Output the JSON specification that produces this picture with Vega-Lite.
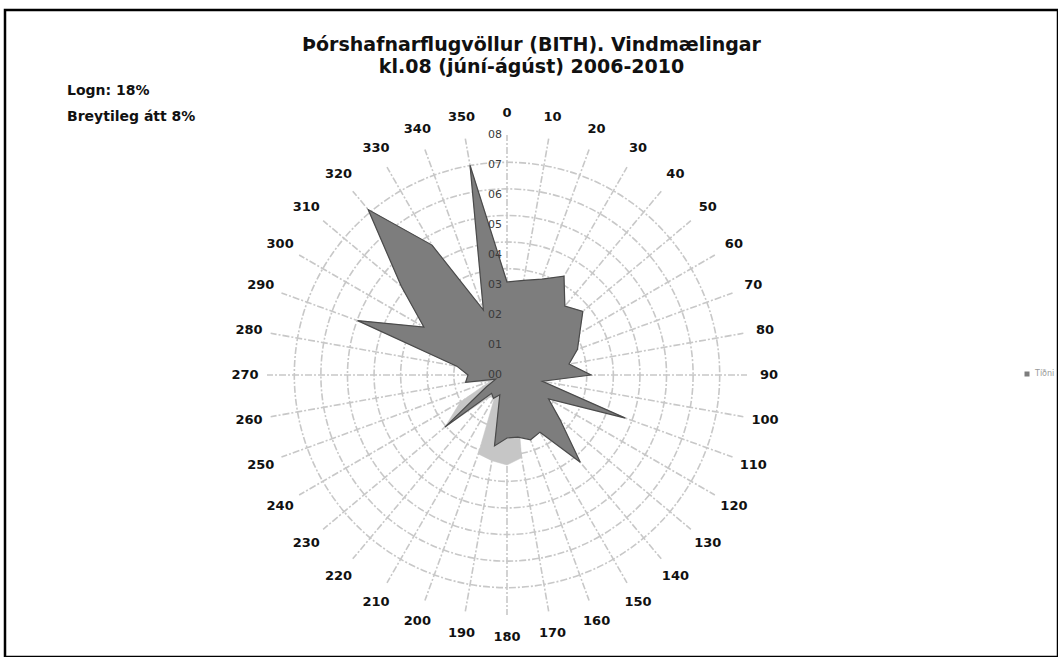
{
  "$schema": "https://vega.github.io/schema/vega-lite/v6.json",
  "width": 1053,
  "height": 647,
  "autosize": {"type": "none"},
  "padding": {"left": 5, "top": 10, "right": 0, "bottom": 0},
  "background": "white",
  "config": {"view": {"stroke": "black", "strokeWidth": 2.5}, "font": "DejaVu Sans"},
  "title": {
    "text": ["Þórshafnarflugvöllur (BITH). Vindmælingar", "kl.08 (júní-ágúst) 2006-2010"],
    "anchor": "middle",
    "frame": "group",
    "orient": "top",
    "baseline": "top",
    "offset": 0,
    "dy": 67,
    "font": "DejaVu Sans",
    "fontSize": 19,
    "fontWeight": "bold",
    "lineHeight": 22,
    "color": "#111"
  },
  "datasets": {
    "wind": [
      {"dir": 0, "tidni": 0.031, "ljos": 0.031},
      {"dir": 10, "tidni": 0.032, "ljos": 0.032},
      {"dir": 20, "tidni": 0.034, "ljos": 0.034},
      {"dir": 30, "tidni": 0.038, "ljos": 0.038},
      {"dir": 40, "tidni": 0.030, "ljos": 0.030},
      {"dir": 50, "tidni": 0.033, "ljos": 0.033},
      {"dir": 60, "tidni": 0.028, "ljos": 0.028},
      {"dir": 70, "tidni": 0.025, "ljos": 0.025},
      {"dir": 80, "tidni": 0.021, "ljos": 0.021},
      {"dir": 90, "tidni": 0.028, "ljos": 0.028},
      {"dir": 100, "tidni": 0.012, "ljos": 0.012},
      {"dir": 110, "tidni": 0.042, "ljos": 0.042},
      {"dir": 120, "tidni": 0.016, "ljos": 0.016},
      {"dir": 130, "tidni": 0.023, "ljos": 0.023},
      {"dir": 140, "tidni": 0.038, "ljos": 0.038},
      {"dir": 150, "tidni": 0.022, "ljos": 0.020},
      {"dir": 160, "tidni": 0.023, "ljos": 0.010},
      {"dir": 170, "tidni": 0.021, "ljos": 0.028},
      {"dir": 180, "tidni": 0.021, "ljos": 0.030},
      {"dir": 190, "tidni": 0.024, "ljos": 0.029},
      {"dir": 200, "tidni": 0.007, "ljos": 0.028},
      {"dir": 210, "tidni": 0.009, "ljos": 0.008},
      {"dir": 220, "tidni": 0.008, "ljos": 0.010},
      {"dir": 230, "tidni": 0.027, "ljos": 0.027},
      {"dir": 240, "tidni": 0.008, "ljos": 0.018},
      {"dir": 250, "tidni": 0.004, "ljos": 0.006},
      {"dir": 260, "tidni": 0.014, "ljos": 0.014},
      {"dir": 270, "tidni": 0.013, "ljos": 0.013},
      {"dir": 280, "tidni": 0.017, "ljos": 0.017},
      {"dir": 290, "tidni": 0.053, "ljos": 0.053},
      {"dir": 300, "tidni": 0.032, "ljos": 0.032},
      {"dir": 310, "tidni": 0.046, "ljos": 0.046},
      {"dir": 320, "tidni": 0.072, "ljos": 0.072},
      {"dir": 330, "tidni": 0.050, "ljos": 0.050},
      {"dir": 340, "tidni": 0.023, "ljos": 0.023},
      {"dir": 350, "tidni": 0.071, "ljos": 0.071}
    ],
    "rings": [
      {"ring": 0.00, "label": "00"},
      {"ring": 0.01, "label": "01"},
      {"ring": 0.02, "label": "02"},
      {"ring": 0.03, "label": "03"},
      {"ring": 0.04, "label": "04"},
      {"ring": 0.05, "label": "05"},
      {"ring": 0.06, "label": "06"},
      {"ring": 0.07, "label": "07"},
      {"ring": 0.08, "label": "08"}
    ],
    "notes": [
      {"text": "Logn: 18%\nBreytileg átt 8%"}
    ],
    "legend": [
      {"series": "Tíðni"}
    ]
  },
  "layer": [
    {
      "data": {"name": "rings"},
      "transform": [
        {"filter": "datum.ring > 0"},
        {"calculate": "PI * pow(datum.ring * 3000, 2)", "as": "area"},
        {"calculate": "0", "as": "cx"},
        {"calculate": "0", "as": "cy"}
      ],
      "mark": {"type": "point", "shape": "circle", "filled": false, "stroke": "#c8c8c8", "strokeWidth": 1.6, "strokeDash": [7, 2, 2, 2], "opacity": 1},
      "encoding": {
        "x": {"field": "cx", "type": "quantitative", "scale": {"domain": [-502, 551], "nice": false, "zero": false}, "axis": null},
        "y": {"field": "cy", "type": "quantitative", "scale": {"domain": [-282, 365], "nice": false, "zero": false}, "axis": null},
        "size": {"field": "area", "type": "quantitative", "scale": null, "legend": null}
      }
    },
    {
      "data": {"name": "wind"},
      "transform": [
        {"calculate": "0", "as": "cx"},
        {"calculate": "0", "as": "cy"},
        {"calculate": "240 * sin(datum.dir * PI / 180)", "as": "px2"},
        {"calculate": "240 * cos(datum.dir * PI / 180)", "as": "py2"}
      ],
      "mark": {"type": "rule", "stroke": "#c8c8c8", "strokeWidth": 1.6, "strokeDash": [7, 2, 2, 2]},
      "encoding": {
        "x": {"field": "cx", "type": "quantitative", "scale": {"domain": [-502, 551], "nice": false, "zero": false}, "axis": null},
        "y": {"field": "cy", "type": "quantitative", "scale": {"domain": [-282, 365], "nice": false, "zero": false}, "axis": null},
        "x2": {"field": "px2"},
        "y2": {"field": "py2"}
      }
    },
    {
      "data": {"name": "wind"},
      "transform": [
        {"calculate": "datum.ljos * 3000 * sin(datum.dir * PI / 180)", "as": "px"},
        {"calculate": "datum.ljos * 3000 * cos(datum.dir * PI / 180)", "as": "py"}
      ],
      "mark": {"type": "line", "interpolate": "linear-closed", "fill": "#c6c6c6", "stroke": "#c6c6c6", "strokeWidth": 0.5},
      "encoding": {
        "x": {"field": "px", "type": "quantitative", "scale": {"domain": [-502, 551], "nice": false, "zero": false}, "axis": null},
        "y": {"field": "py", "type": "quantitative", "scale": {"domain": [-282, 365], "nice": false, "zero": false}, "axis": null},
        "order": {"field": "dir", "type": "quantitative"}
      }
    },
    {
      "data": {"name": "wind"},
      "transform": [
        {"calculate": "datum.tidni * 3000 * sin(datum.dir * PI / 180)", "as": "px"},
        {"calculate": "datum.tidni * 3000 * cos(datum.dir * PI / 180)", "as": "py"}
      ],
      "mark": {"type": "line", "interpolate": "linear-closed", "fill": "#7d7d7d", "stroke": "#4a4a4a", "strokeWidth": 1.2},
      "encoding": {
        "x": {"field": "px", "type": "quantitative", "scale": {"domain": [-502, 551], "nice": false, "zero": false}, "axis": null},
        "y": {"field": "py", "type": "quantitative", "scale": {"domain": [-282, 365], "nice": false, "zero": false}, "axis": null},
        "order": {"field": "dir", "type": "quantitative"}
      }
    },
    {
      "data": {"name": "legend"},
      "transform": [
        {"calculate": "0", "as": "cx"},
        {"calculate": "0", "as": "cy"}
      ],
      "mark": {"type": "square", "opacity": 0},
      "encoding": {
        "x": {"field": "cx", "type": "quantitative", "scale": {"domain": [-502, 551], "nice": false, "zero": false}, "axis": null},
        "y": {"field": "cy", "type": "quantitative", "scale": {"domain": [-282, 365], "nice": false, "zero": false}, "axis": null},
        "fill": {
          "field": "series", "type": "nominal",
          "scale": {"domain": ["Tíðni"], "range": ["#7d7d7d"]},
          "legend": {"title": null, "orient": "none", "legendX": 1018, "legendY": 360, "labelFontSize": 8, "labelColor": "#999", "labelFont": "DejaVu Sans", "symbolType": "square", "symbolSize": 25, "symbolOpacity": 1, "symbolStrokeWidth": 0}
        }
      }
    },
    {
      "data": {"name": "rings"},
      "transform": [
        {"calculate": "0", "as": "cx"},
        {"calculate": "datum.ring * 3000", "as": "py"}
      ],
      "mark": {"type": "text", "align": "right", "baseline": "middle", "dx": -5, "fontSize": 11, "fill": "#3a3a3a", "font": "DejaVu Sans"},
      "encoding": {
        "x": {"field": "cx", "type": "quantitative", "scale": {"domain": [-502, 551], "nice": false, "zero": false}, "axis": null},
        "y": {"field": "py", "type": "quantitative", "scale": {"domain": [-282, 365], "nice": false, "zero": false}, "axis": null},
        "text": {"field": "label"}
      }
    },
    {
      "data": {"name": "wind"},
      "transform": [
        {"calculate": "262 * sin(datum.dir * PI / 180)", "as": "px"},
        {"calculate": "262 * cos(datum.dir * PI / 180)", "as": "py"}
      ],
      "mark": {"type": "text", "align": "center", "baseline": "middle", "fontSize": 13, "fontWeight": "bold", "fill": "#111", "font": "DejaVu Sans"},
      "encoding": {
        "x": {"field": "px", "type": "quantitative", "scale": {"domain": [-502, 551], "nice": false, "zero": false}, "axis": null},
        "y": {"field": "py", "type": "quantitative", "scale": {"domain": [-282, 365], "nice": false, "zero": false}, "axis": null},
        "text": {"field": "dir", "type": "quantitative"}
      }
    },
    {
      "data": {"name": "notes"},
      "mark": {"type": "text", "align": "left", "baseline": "middle", "fontSize": 14, "fontWeight": "bold", "fill": "#111", "font": "DejaVu Sans", "x": 62, "y": 81, "lineBreak": "\n", "lineHeight": 26},
      "encoding": {
        "text": {"field": "text"}
      }
    }
  ]
}
